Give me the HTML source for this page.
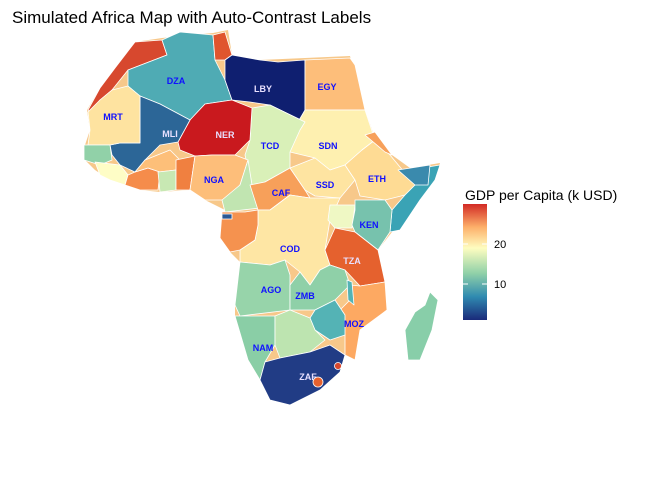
<!DOCTYPE html>
<html><head><meta charset="utf-8"><style>
body{margin:0;background:#fff}
svg{display:block;font-family:"Liberation Sans",sans-serif}
.c{stroke:#fff;stroke-width:0.8;stroke-linejoin:round}
.l{font-size:9px;font-weight:bold;text-anchor:middle;fill:#1010ff}
.w{fill:#e8e0ff}
</style></head><body>
<svg width="672" height="480" viewBox="0 0 672 480">
<defs><linearGradient id="g" x1="0" y1="1" x2="0" y2="0">
<stop offset="0" stop-color="#1a2a7a"/><stop offset="0.2" stop-color="#2f8ab0"/><stop offset="0.4" stop-color="#8fd0a8"/><stop offset="0.62" stop-color="#fefdc0"/><stop offset="0.8" stop-color="#fdb06a"/><stop offset="1" stop-color="#d22a25"/></linearGradient></defs>
<text x="12" y="23" font-size="17" fill="#000">Simulated Africa Map with Auto-Contrast Labels</text>
<polygon fill="#f7c88a" points="87,110 100,88 135,42 162,38 213,33 228,30 232,55 260,60 305,58 350,56 365,110 375,138 392,155 410,168 440,163 435,180 420,200 392,232 378,250 385,282 387,310 360,330 355,360 345,355 340,372 320,390 290,405 270,400 260,380 248,360 235,316 235,305 240,262 230,252 220,238 222,218 225,210 205,200 190,190 160,192 140,190 125,185 110,180 95,170 85,160 85,145 90,130"/>
<g class="c">
<polygon fill="#d7482e" points="88,110 100,88 115,68 135,42 162,40 167,55 128,70 112,90 100,100 90,112"/>
<polygon fill="#4fabb4" points="128,70 167,55 162,40 180,32 213,35 215,60 225,80 232,100 205,104 190,120 160,104 140,96 128,86"/>
<polygon fill="#e0552e" points="213,35 225,32 232,55 225,60 215,60"/>
<polygon fill="#0f1f70" points="225,60 232,55 260,60 278,62 305,60 305,122 270,105 250,102 232,100 225,80"/>
<polygon fill="#fdbe7a" points="305,60 350,58 355,65 365,110 305,110"/>
<polygon fill="#fef0b0" points="305,110 365,110 375,140 362,150 345,165 330,170 315,158 290,152 290,130 298,122"/>
<polygon fill="#d9f0b8" points="252,108 270,105 305,122 300,130 290,152 290,168 265,182 252,185 245,155 250,140"/>
<polygon fill="#c9191e" points="190,120 205,104 232,100 252,108 250,140 235,155 212,155 195,156 180,150 178,142"/>
<polygon fill="#2c6697" points="140,96 160,104 190,120 178,142 160,145 145,160 135,172 120,165 112,155 110,145 120,143 140,143"/>
<polygon fill="#fee3a0" points="88,112 100,100 112,90 128,86 140,96 140,143 120,143 110,145 88,145 90,130"/>
<polygon fill="#91d1a8" points="84,145 110,145 112,160 100,165 84,160"/>
<polygon fill="#fefdc6" points="95,162 120,165 128,175 125,185 110,180 100,175"/>
<polygon fill="#f58c4b" points="128,175 135,172 148,168 160,172 158,190 140,190 125,185"/>
<polygon fill="#fdbf79" points="135,172 145,160 170,150 180,160 176,170 160,172 148,168"/>
<polygon fill="#c8e8b3" points="158,172 176,170 176,190 160,192"/>
<polygon fill="#f08040" points="176,160 195,156 190,190 176,190"/>
<polygon fill="#fdbe7a" points="195,156 212,155 235,155 248,160 240,185 225,200 205,200 190,190"/>
<polygon fill="#c1e5b1" points="248,160 252,185 260,208 225,212 222,200 240,185"/>
<polygon fill="#f7a05a" points="250,185 265,182 290,168 305,190 310,198 290,195 270,210 258,210"/>
<polygon fill="#fee4a1" points="290,168 315,158 330,170 345,165 355,180 340,198 315,196 305,190"/>
<polygon fill="#fedb94" points="345,165 362,150 375,140 390,155 415,185 405,195 385,200 360,196 355,180"/>
<polygon fill="#f7a05a" points="365,135 375,132 392,155 385,152"/>
<polygon fill="#3aa3b5" points="410,170 440,165 435,180 420,200 400,230 390,232 392,210 405,195 415,185"/>
<polygon fill="#3a8aad" points="398,170 430,165 428,185 415,185"/>
<polygon fill="#fee6a4" points="258,210 270,210 290,195 310,198 340,198 330,220 325,250 330,265 320,270 310,285 300,272 285,260 270,265 240,262 240,250 255,240 258,225"/>
<polygon fill="#f5924f" points="222,212 245,212 258,210 258,225 255,240 240,250 230,252 220,238"/>
<polygon fill="#2c5a95" points="222,214 232,214 232,219 222,219"/>
<polygon fill="#eff8c4" points="330,205 355,205 352,228 335,228 328,220"/>
<polygon fill="#77c2ad" points="355,200 385,200 392,210 390,232 378,250 355,232 352,225 355,210"/>
<polygon fill="#e5612e" points="335,228 355,232 378,250 385,282 360,286 345,270 330,265 325,250"/>
<polygon fill="#97d4aa" points="240,262 270,265 285,260 290,275 290,285 290,310 240,316 235,305"/>
<polygon fill="#8fd0a8" points="290,285 300,272 310,285 320,270 330,265 345,270 350,285 335,300 315,310 290,310"/>
<polygon fill="#fda962" points="350,285 360,286 385,282 387,310 360,330 355,360 345,355 345,335 335,315 350,300"/>
<polygon fill="#54b3b5" points="347,280 352,282 354,305 348,300"/>
<polygon fill="#54b3b5" points="310,318 315,310 335,300 345,315 345,335 330,340 315,330"/>
<polygon fill="#8acea6" points="235,316 240,316 275,316 275,345 265,362 260,380 248,360"/>
<polygon fill="#bde4b0" points="275,316 290,310 310,318 315,330 325,340 310,352 295,355 280,358 275,345"/>
<polygon fill="#213c85" points="260,380 265,362 280,358 295,355 310,352 330,345 345,355 340,372 320,390 290,405 270,400"/>
<circle cx="318" cy="382" r="5" fill="#e5612e"/>
<circle cx="338" cy="366" r="3.5" fill="#d7482e"/>
<polygon fill="#88cea9" points="430,292 438,300 432,330 420,360 408,360 405,330 415,312 425,305"/>
</g>
<g class="l">
<text x="176" y="84">DZA</text><text x="263" y="92" class="l w">LBY</text><text x="327" y="90">EGY</text>
<text x="113" y="120">MRT</text><text x="170" y="137" class="l w">MLI</text><text x="225" y="138" class="l w">NER</text>
<text x="270" y="149">TCD</text><text x="328" y="149">SDN</text><text x="214" y="183">NGA</text>
<text x="281" y="196">CAF</text><text x="325" y="188">SSD</text><text x="377" y="182">ETH</text>
<text x="369" y="228">KEN</text><text x="290" y="252">COD</text><text x="352" y="264" class="l w">TZA</text>
<text x="271" y="293">AGO</text><text x="305" y="299">ZMB</text><text x="354" y="327">MOZ</text>
<text x="263" y="351">NAM</text><text x="308" y="380" class="l w">ZAF</text>
</g>
<text x="465" y="200" font-size="14" fill="#000">GDP per Capita (k USD)</text>
<rect x="463" y="204" width="24" height="116" fill="url(#g)"/>
<line x1="463" y1="244" x2="468" y2="244" stroke="#fff"/><line x1="482" y1="244" x2="487" y2="244" stroke="#fff"/>
<line x1="463" y1="284" x2="468" y2="284" stroke="#fff"/><line x1="482" y1="284" x2="487" y2="284" stroke="#fff"/>
<text x="494" y="248" font-size="11" fill="#000">20</text>
<text x="494" y="288" font-size="11" fill="#000">10</text>
</svg>
</body></html>
